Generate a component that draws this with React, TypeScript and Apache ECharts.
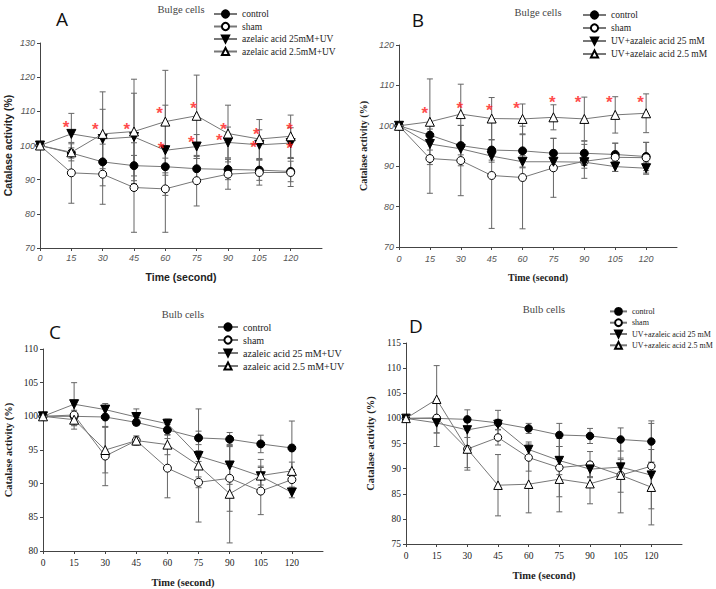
import React, { useEffect, useRef } from "react";
import * as echarts from "echarts";

// ---------- data ----------
const timePoints = [0, 15, 30, 45, 60, 75, 90, 105, 120];
const xTickValues = [0, 15, 30, 45, 60, 75, 90, 105, 120];

// Panel A (Bulge cells)
const A_names = ["control", "sham", "azelaic acid 25mM+UV", "azelaic acid 2.5mM+UV"];
const A_control = [100, 97.8, 95.2, 94.1, 93.8, 93.2, 93.0, 92.8, 92.4];
const A_sham = [100, 92.0, 91.6, 87.7, 87.3, 89.7, 91.6, 92.1, 92.1];
const A_high = [100, 103.4, 101.9, 102.5, 98.6, 99.7, 100.9, 100.2, 100.7];
const A_low = [100, 98.0, 103.4, 104.1, 107.0, 108.7, 103.5, 101.9, 102.7];
const A_control_sd = [0, 1.5, 7, 3, 2.5, 3, 3, 3, 3];
const A_sham_sd = [0, 8.9, 8.8, 13.1, 12.7, 7.4, 4.4, 3.7, 4.1];
const A_high_sd = [0, 6, 8.7, 12.8, 13.2, 3.5, 4.5, 4.4, 4.5];
const A_low_sd = [0, 2.5, 12.3, 15.3, 15.0, 11.9, 8.3, 5.7, 6.2];
const A_starX = [12.5, 26.5, 41.5, 57.2, 58, 73.5, 72.4, 87.9, 85.9, 103.5, 102.2, 119.5, 119.5];
const A_starY = [106.8, 106.1, 106.1, 110.7, 100.5, 112.2, 102.2, 106.2, 102.9, 104.6, 100.9, 106.2, 100.7];

// Panel B (Bulge cells)
const B_names = ["control", "sham", "UV+azaleic acid 25 mM", "UV+azelaic acid 2.5 mM"];
const B_control = [100, 97.7, 95.1, 94.0, 93.8, 93.2, 93.2, 92.9, 92.4];
const B_sham = [100, 91.9, 91.4, 87.7, 87.2, 89.6, 91.2, 92.2, 92.1];
const B_high = [100, 95.5, 94.3, 92.5, 91.1, 91.1, 91.0, 89.9, 89.5];
const B_low = [100, 101.0, 102.9, 101.8, 101.7, 102.1, 101.7, 102.7, 103.1];
const B_control_sd = [0, 1.5, 5, 2.5, 4, 3.7, 3, 2.8, 3.5];
const B_sham_sd = [0, 8.6, 8.7, 13.1, 12.7, 7.3, 4.2, 3.5, 3.8];
const B_high_sd = [0, 1.5, 1.5, 1.5, 1.5, 1.5, 1.5, 1.2, 1.5];
const B_low_sd = [0, 10.6, 7.4, 5.2, 3.7, 3.1, 5.4, 4.5, 4.8];
const B_starX = [12.5, 29.5, 43.8, 57.1, 74.4, 87.0, 102.1, 117.3];
const B_starY = [104.3, 105.4, 105.1, 105.4, 107.0, 107.0, 107.0, 107.0];

// Panel C (Bulb cells)
const C_names = ["control", "sham", "azaleic acid 25 mM+UV", "azaleic acid 2.5 mM+UV"];
const C_control = [100, 100, 99.9, 99.1, 98.0, 96.8, 96.6, 95.9, 95.3];
const C_sham = [100, 100.2, 94.1, 96.4, 92.3, 90.2, 90.8, 88.9, 90.6];
const C_high = [100, 101.8, 101.0, 99.9, 98.9, 94.1, 92.7, 91.1, 88.7];
const C_low = [100, 99.5, 95.0, 96.4, 95.8, 92.7, 88.5, 91.2, 91.9];
const C_control_sd = [0, 0.5, 1.5, 0.4, 0.8, 1, 1, 1.3, 4.0];
const C_sham_sd = [0, 1.5, 4.4, 0.5, 4.4, 0.8, 4.9, 3.5, 1.5];
const C_high_sd = [0, 3.2, 0.9, 1.2, 0.7, 0.8, 2.8, 2.5, 0.8];
const C_low_sd = [0, 1.4, 3.4, 0.7, 1.5, 8.4, 7.3, 1.4, 1.3];

// Panel D (Bulb cells)
const D_names = ["control", "sham", "UV+azaleic acid 25 mM", "UV+azaleic acid 2.5 mM"];
const D_control = [100, 100, 99.8, 99.1, 98.0, 96.7, 96.5, 95.8, 95.4];
const D_sham = [100, 100.1, 93.9, 96.2, 92.2, 90.2, 90.8, 88.7, 90.5];
const D_high = [100, 99.1, 97.7, 98.8, 93.8, 91.6, 89.9, 90.3, 88.7];
const D_low = [100, 103.8, 93.9, 86.7, 86.9, 87.9, 87.0, 88.7, 86.3];
const D_control_sd = [0, 0.5, 1.9, 2.5, 1.0, 2.3, 1.5, 2.3, 4.1];
const D_sham_sd = [0, 3.0, 4.2, 1.5, 2.7, 5.8, 2.6, 3.4, 8.5];
const D_high_sd = [0, 4.7, 1.5, 1.0, 1.5, 2.8, 1.5, 1.5, 2.5];
const D_low_sd = [0, 6.7, 3.7, 6.1, 5.7, 6.5, 4.0, 7.5, 7.5];

// ---------- styles ----------
const SANS = "Liberation Sans";
const SERIF = "Liberation Serif";
const DOWN_TRI = "path://M0,0L10,0L5,9Z";
const markerStyles = [
  { symbol: "circle", color: "#000", border: "#000" },
  { symbol: "circle", color: "#fff", border: "#000" },
  { symbol: DOWN_TRI, color: "#000", border: "#000" },
  { symbol: "triangle", color: "#fff", border: "#000" },
];

const panels = [
  {
    grid: { left: 40, top: 43, width: 282, height: 205 },
    yMin: 70, yMax: 130, yInt: 10,
    names: A_names,
    values: [A_control, A_sham, A_high, A_low],
    sds: [A_control_sd, A_sham_sd, A_high_sd, A_low_sd],
    tickFont: { fontFamily: SANS, fontStyle: "italic", fontSize: 9, color: "#555" },
    titleFont: { fontFamily: SANS, fontWeight: "bold", fontSize: 10.5, color: "#222" },
    yGap: 27, xGap: 23, yLabelMargin: 5, xLabelMargin: 5,
    legend: { left: 213, top: 9, fontSize: 9.5, itemGap: 2.5, itemWidth: 23, itemHeight: 9 },
    symbolSize: 8,
  },
  {
    grid: { left: 399, top: 45, width: 278, height: 202 },
    yMin: 70, yMax: 120, yInt: 10,
    names: B_names,
    values: [B_control, B_sham, B_high, B_low],
    sds: [B_control_sd, B_sham_sd, B_high_sd, B_low_sd],
    tickFont: { fontFamily: SANS, fontStyle: "italic", fontSize: 9, color: "#555" },
    titleFont: { fontFamily: SERIF, fontWeight: "bold", fontSize: 10, color: "#222" },
    yGap: 31, xGap: 25, yLabelMargin: 5, xLabelMargin: 7,
    legend: { left: 582, top: 10, fontSize: 9.5, itemGap: 3, itemWidth: 23, itemHeight: 9 },
    symbolSize: 8,
  },
  {
    grid: { left: 43, top: 349, width: 280, height: 203 },
    yMin: 80, yMax: 110, yInt: 5,
    names: C_names,
    values: [C_control, C_sham, C_high, C_low],
    sds: [C_control_sd, C_sham_sd, C_high_sd, C_low_sd],
    tickFont: { fontFamily: SERIF, fontSize: 9.5, color: "#222" },
    titleFont: { fontFamily: SERIF, fontWeight: "bold", fontSize: 10.5, color: "#222" },
    yGap: 29, xGap: 26, yLabelMargin: 5, xLabelMargin: 7,
    legend: { left: 217, top: 322, fontSize: 10, itemGap: 3, itemWidth: 20, itemHeight: 9 },
    symbolSize: 8,
  },
  {
    grid: { left: 406, top: 343, width: 276, height: 201 },
    yMin: 75, yMax: 115, yInt: 5,
    names: D_names,
    values: [D_control, D_sham, D_high, D_low],
    sds: [D_control_sd, D_sham_sd, D_high_sd, D_low_sd],
    tickFont: { fontFamily: SERIF, fontSize: 9.5, color: "#222" },
    titleFont: { fontFamily: SERIF, fontWeight: "bold", fontSize: 10.5, color: "#222" },
    yGap: 30, xGap: 26, yLabelMargin: 5, xLabelMargin: 7,
    legend: { left: 609, top: 307, fontSize: 8, itemGap: 2.5, itemWidth: 17, itemHeight: 8.5 },
    symbolSize: 7.5,
  },
];

const ERR_COLOR = "#666";
const LINE_COLOR = "#777";

function errRender(params: any, api: any) {
  const x = api.value(0);
  const lo = api.value(1);
  const hi = api.value(2);
  const sd = api.value(3);
  if (!sd) return { type: "group", children: [] };
  const pHi = api.coord([x, hi]);
  const pLo = api.coord([x, lo]);
  const w = 3;
  const st = { stroke: ERR_COLOR, lineWidth: 1 };
  return {
    type: "group",
    children: [
      { type: "line", shape: { x1: pHi[0], y1: pHi[1], x2: pLo[0], y2: pLo[1] }, style: st },
      { type: "line", shape: { x1: pHi[0] - w, y1: pHi[1], x2: pHi[0] + w, y2: pHi[1] }, style: st },
      { type: "line", shape: { x1: pLo[0] - w, y1: pLo[1], x2: pLo[0] + w, y2: pLo[1] }, style: st },
    ],
  };
}

function buildOption() {
  const grids: any[] = [];
  const xAxes: any[] = [];
  const yAxes: any[] = [];
  const series: any[] = [];
  const legends: any[] = [];

  panels.forEach((p, pi) => {
    grids.push({ ...p.grid, containLabel: false });
    xAxes.push({
      type: "value",
      gridIndex: pi,
      min: 0,
      max: 135,
      interval: 15,
      name: "Time (second)",
      nameLocation: "middle",
      nameGap: p.xGap,
      nameTextStyle: { ...p.titleFont, verticalAlign: "top" },
      axisLine: { onZero: false, lineStyle: { color: "#444", width: 1 } },
      axisTick: { show: true, length: 3, customValues: xTickValues, lineStyle: { color: "#444" } },
      axisLabel: { ...p.tickFont, margin: p.xLabelMargin, customValues: xTickValues },
      splitLine: { show: false },
    });
    yAxes.push({
      type: "value",
      gridIndex: pi,
      min: p.yMin,
      max: p.yMax,
      interval: p.yInt,
      name: "Catalase activity (%)",
      nameLocation: "middle",
      nameRotate: 90,
      nameGap: p.yGap,
      nameTextStyle: p.titleFont,
      axisLine: { show: true, onZero: false, lineStyle: { color: "#444", width: 1 } },
      axisTick: { show: true, length: 3, lineStyle: { color: "#444" } },
      axisLabel: { ...p.tickFont, margin: p.yLabelMargin },
      splitLine: { show: false },
    });

    p.values.forEach((vals, si) => {
      const sd = p.sds[si];
      series.push({
        type: "custom",
        name: "err-" + pi + "-" + si,
        xAxisIndex: pi,
        yAxisIndex: pi,
        silent: true,
        z: 1,
        renderItem: errRender,
        encode: { x: 0, y: [1, 2] },
        data: timePoints.map((t, i) => [t, vals[i] - sd[i], vals[i] + sd[i], sd[i]]),
      });
    });
    p.values.forEach((vals, si) => {
      const m = markerStyles[si];
      series.push({
        type: "line",
        name: p.names[si],
        xAxisIndex: pi,
        yAxisIndex: pi,
        z: 3 + si,
        symbol: m.symbol,
        symbolSize: si >= 2 ? p.symbolSize + 1 : p.symbolSize,
        showAllSymbol: true,
        itemStyle: { color: m.color, borderColor: m.border, borderWidth: 1, opacity: 1 },
        lineStyle: { color: LINE_COLOR, width: 1 },
        data: timePoints.map((t, i) => [t, vals[i]]),
      });
    });

    legends.push({
      show: true,
      orient: "vertical",
      left: p.legend.left,
      top: p.legend.top,
      itemWidth: p.legend.itemWidth,
      itemHeight: p.legend.itemHeight,
      itemGap: p.legend.itemGap,
      padding: 0,
      selectedMode: false,
      data: p.names.map((n) => ({
        name: n,
        textStyle: { fontFamily: SERIF, fontSize: p.legend.fontSize, color: "#222" },
      })),
      textStyle: { fontFamily: SERIF, fontSize: p.legend.fontSize, color: "#222" },
    });
  });

  const starSeries = (sx: number[], sy: number[], idx: number) => ({
    type: "scatter",
    name: "stars-" + idx,
    xAxisIndex: idx,
    yAxisIndex: idx,
    z: 10,
    symbol: "circle",
    symbolSize: 1,
    itemStyle: { color: "rgba(0,0,0,0)" },
    label: {
      show: true,
      position: "inside",
      formatter: "*",
      color: "#ff1a1a",
      fontSize: 17,
      fontWeight: "bold",
      fontFamily: SANS,
      offset: [0, 5],
    },
    data: sx.map((x, i) => [x, sy[i]]),
  });
  series.push(starSeries(A_starX, A_starY, 0));
  series.push(starSeries(B_starX, B_starY, 1));

  const txt = (x: number, y: number, text: string, font: any) => ({
    type: "text",
    x,
    y,
    style: { text, ...font },
  });
  const letterFont = { fontFamily: "Open Sans", fontSize: 19, fill: "#111", textAlign: "center", textVerticalAlign: "middle" };
  const titleFont = { fontFamily: SERIF, fontSize: 10.5, fill: "#444", textAlign: "center", textVerticalAlign: "middle" };

  const graphic = [
    txt(62, 19, "A", letterFont),
    txt(418, 20, "B", letterFont),
    txt(55, 332, "C", letterFont),
    txt(416, 326, "D", letterFont),
    txt(181, 9, "Bulge cells", titleFont),
    txt(538, 12, "Bulge cells", titleFont),
    txt(183, 314, "Bulb cells", titleFont),
    txt(544, 309, "Bulb cells", titleFont),
  ];

  return {
    animation: false,
    backgroundColor: "#fff",
    grid: grids,
    xAxis: xAxes,
    yAxis: yAxes,
    legend: legends,
    series,
    graphic,
  };
}

export default function App() {
  const ref = useRef<HTMLDivElement>(null);
  useEffect(() => {
    if (!ref.current) return;
    const chart = echarts.init(ref.current, undefined, { renderer: "svg" });
    chart.setOption(buildOption() as any);
    return () => chart.dispose();
  }, []);
  return (
    <div
      ref={ref}
      style={{ position: "fixed", left: 0, top: 0, width: 716, height: 589, background: "#fff" }}
    />
  );
}
